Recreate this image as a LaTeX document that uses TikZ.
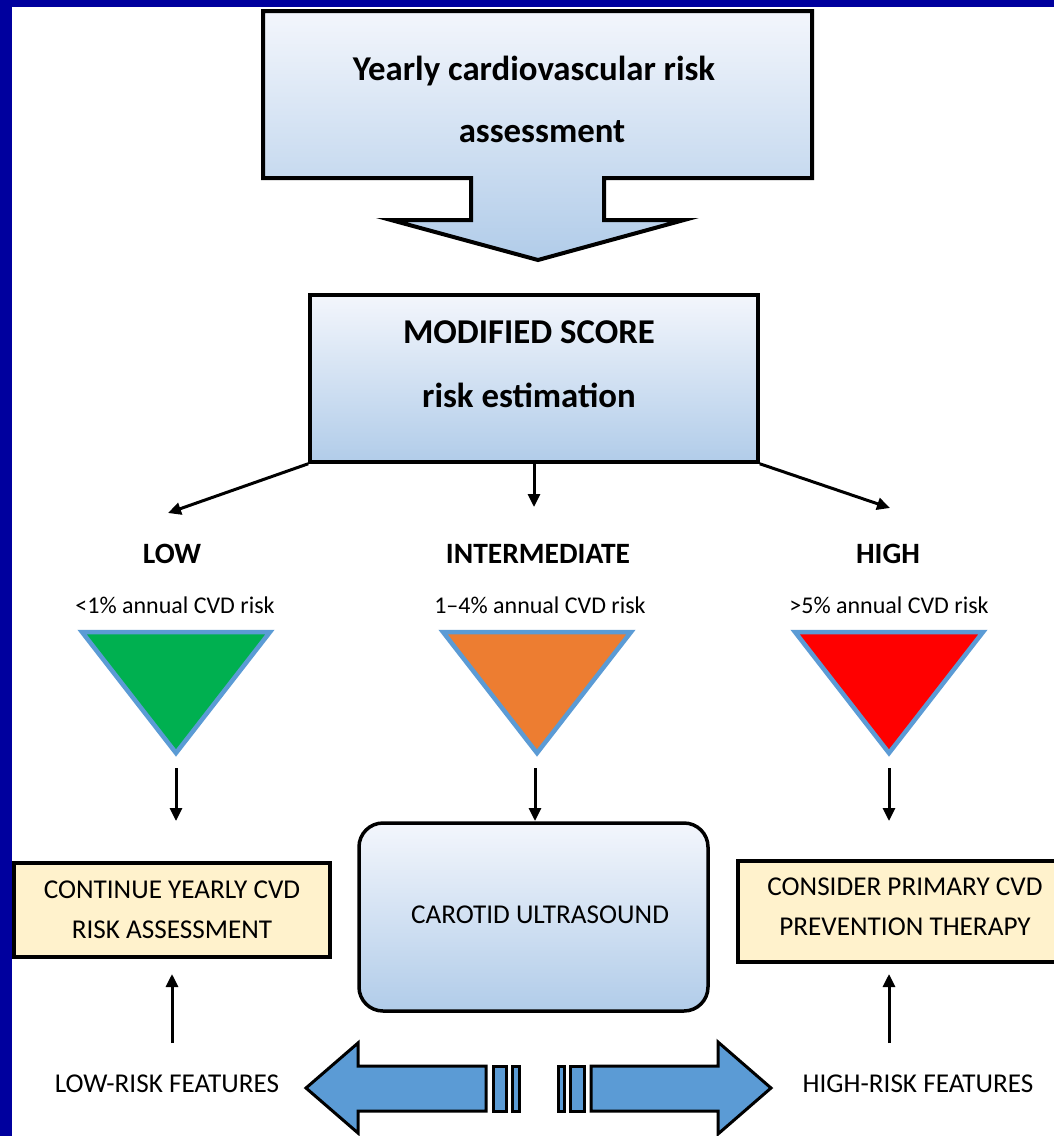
\documentclass[tikz,border=0pt]{standalone}
\usepackage{fontspec}
\setmainfont{Carlito}
\usetikzlibrary{arrows.meta}
\definecolor{frameblue}{RGB}{0,0,158}
\definecolor{gtop}{HTML}{F3F6FC}
\definecolor{gbot}{HTML}{B1CCE9}
\definecolor{beige}{HTML}{FFF2CC}
\definecolor{tgreen}{HTML}{00B050}
\definecolor{torange}{HTML}{ED7D31}
\definecolor{tred}{HTML}{FF0000}
\definecolor{tline}{HTML}{5B9BD5}
\definecolor{bigblue}{HTML}{5B9BD5}
\begin{document}
\begin{tikzpicture}[x=1pt,y=-1pt,
  arr/.style={line width=3pt, -{Triangle[length=13pt,width=12pt]}},
  hbig/.style={font=\bfseries\fontsize{34.8}{40}\selectfont, anchor=base, inner sep=0pt},
  hmid/.style={font=\bfseries\fontsize{29.5}{34}\selectfont, anchor=base, inner sep=0pt},
  rsmall/.style={font=\fontsize{24}{28}\selectfont, anchor=base, inner sep=0pt},
  rtext/.style={font=\fontsize{27.2}{30}\selectfont, anchor=base, inner sep=0pt},
  gradbox/.style={draw=black, line width=3.5pt, top color=gtop, bottom color=gbot, inner sep=0pt},
  beigebox/.style={draw=black, line width=3.5pt, fill=beige, inner sep=0pt},
  tri/.style={draw=tline, line width=4.5pt, line join=miter},
  big/.style={draw=black, line width=3pt, fill=bigblue, line join=miter},
]
\useasboundingbox (0,0) rectangle (1054,1136);
\fill[white] (0,0) rectangle (1054,1136);
% frame
\fill[frameblue] (0,0) rectangle (1054,7);
\fill[frameblue] (0,0) rectangle (12,1136);

% top callout
\shade[top color=gtop, bottom color=gbot, draw=black, line width=4pt, line join=miter]
  (263,11) -- (812,11) -- (812,178) -- (604,178) -- (604,220) -- (684,220)
  -- (538,260) -- (391,220) -- (471,220) -- (471,178) -- (263,178) -- cycle;
\node[hbig] (t1) at (534,80) {Yearly cardiovascular risk};
\node[hbig] (t2) at (542,142) {assessment};

% modified score box
\node[gradbox, minimum width=448pt, minimum height=167pt] (mod) at (534,378.5) {};
\node[hbig] (m1) at (529,343) {MODIFIED SCORE};
\node[hbig] (m2) at (529,407) {risk estimation};

% branch targets
\coordinate (lowtip) at (168,513);
\coordinate (midtip) at (534,507);
\coordinate (hightip) at (890,508);
\draw[arr] (mod.south west) -- (lowtip);
\draw[arr] (mod.south) -- (midtip);
\draw[arr] (mod.south east) -- (hightip);

% labels
\node[hmid] (low) at (172,563) {LOW};
\node[hmid] (inter) at (538,563) {INTERMEDIATE};
\node[hmid] (high) at (888,563) {HIGH};
\node[rsmall] (lowr) at (175,613) {<1\% annual CVD risk};
\node[rsmall] (interr) at (540,613) {1–4\% annual CVD risk};
\node[rsmall] (highr) at (889,613) {>5\% annual CVD risk};

% triangles
\filldraw[tri, fill=tgreen] (82,632) -- (270,632) -- (176,753) -- cycle;
\filldraw[tri, fill=torange] (443,632) -- (631,632) -- (537,753) -- cycle;
\filldraw[tri, fill=tred] (795,632) -- (983,632) -- (889,753) -- cycle;

% arrows below triangles
\coordinate (lowout) at (176,768);
\coordinate (lowin) at (176,821);
\coordinate (midout) at (535,768);
\coordinate (midin) at (535,821);
\coordinate (highout) at (889,768);
\coordinate (highin) at (889,821);
\draw[arr] (lowout) -- (lowin);
\draw[arr] (midout) -- (midin);
\draw[arr] (highout) -- (highin);

% continue box
\node[beigebox, minimum width=316pt, minimum height=94pt] (cont) at (172,910) {};
\node[rtext] (c1) at (172,898) {CONTINUE YEARLY CVD};
\node[rtext] (c2) at (172,938) {RISK ASSESSMENT};

% carotid box
\node[gradbox, rounded corners=24pt, minimum width=349pt, minimum height=188pt] (car) at (533.5,917) {};
\node[rtext] (cartext) at (540,923) {CAROTID ULTRASOUND};

% consider box
\node[beigebox, minimum width=334pt, minimum height=101pt] (cons) at (905,911.5) {};
\node[rtext] (k1) at (905,895) {CONSIDER PRIMARY CVD};
\node[rtext] (k2) at (905,935) {PREVENTION THERAPY};

% features
\node[rtext] (lowf) at (167,1092) {LOW-RISK FEATURES};
\node[rtext] (highf) at (918,1092) {HIGH-RISK FEATURES};
\coordinate (lowup0) at (172,1043);
\coordinate (lowup1) at (172,974);
\coordinate (highup0) at (889,1043);
\coordinate (highup1) at (889,974);
\draw[arr] (lowup0) -- (lowup1);
\draw[arr] (highup0) -- (highup1);

% big bottom arrows
\filldraw[big] (486,1066) -- (358,1066) -- (358,1043) -- (306,1088) -- (358,1133)
  -- (358,1111) -- (486,1111) -- cycle;
\filldraw[big] (493,1066) rectangle (506,1111);
\filldraw[big] (512,1066) rectangle (519,1111);
\filldraw[big] (558,1066) rectangle (564,1111);
\filldraw[big] (570,1066) rectangle (584,1111);
\filldraw[big] (591,1066) -- (718,1066) -- (718,1042) -- (771,1088) -- (718,1134)
  -- (718,1111) -- (591,1111) -- cycle;
\end{tikzpicture}
\end{document}
